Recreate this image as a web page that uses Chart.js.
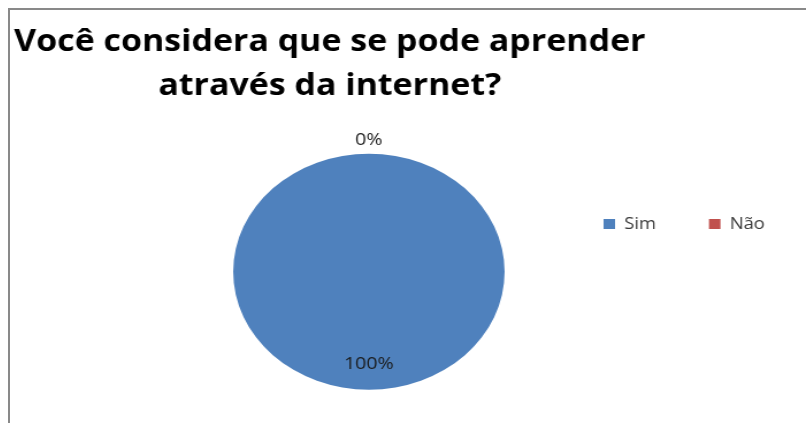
<!DOCTYPE html>
<html>
<head>
<meta charset="utf-8">
<script src="https://cdn.jsdelivr.net/npm/chart.js@4.4.1/dist/chart.umd.min.js"></script>
<style>
  html, body { margin: 0; padding: 0; background: #fff; overflow: hidden; }
  #frame {
    position: absolute; left: 8px; top: 8px;
    width: 798px; height: 415px; box-sizing: border-box;
    border-left: 2px solid #898989; border-top: 2px solid #898989;
  }
  #myChart { display: block; }
</style>
</head>
<body>
<!-- the source image is stretched sideways, so the canvas is too (inline style keeps chart.js from resetting it) -->
<div id="frame"><canvas id="myChart" width="692" height="413" style="width:796px;height:413px"></canvas></div>
<script>
// data
const categories = ['Sim', 'Não'];
const answers = [100, 0];
const sliceColors = ['#4F81BD', '#C0504D'];
const titleLines = ['Você considera que se pode aprender', 'através da internet?'];

// percent labels, like the excel data labels
const pctLabels = {
  id: 'pctLabels',
  afterDatasetsDraw(chart) {
    const ctx = chart.ctx;
    const meta = chart.getDatasetMeta(0);
    const total = answers.reduce((a, b) => a + b, 0);
    ctx.save();
    ctx.font = '17px "Open Sans"';
    ctx.fillStyle = '#1a1a1a';
    ctx.textAlign = 'center';
    ctx.textBaseline = 'middle';
    meta.data.forEach(function (arc, i) {
      const pct = Math.round(answers[i] / total * 100);
      const mid = (arc.startAngle + arc.endAngle) / 2;
      const r = pct < 5 ? arc.outerRadius + 14 : arc.outerRadius * 0.78;
      ctx.fillText(pct + '%', arc.x + Math.cos(mid) * r, arc.y + Math.sin(mid) * r);
    });
    ctx.restore();
  }
};

// move title / legend where excel put them
const placeBoxes = {
  id: 'placeBoxes',
  afterLayout(chart) {
    const t = chart.titleBlock;
    t.left = 278 - 340;
    t.right = 278 + 340;
    t.width = 680;
    const lg = chart.legend;
    lg.left = 470;
    lg.right = 800;
    lg.width = lg.right - lg.left;
    lg.top = 160;
    lg.bottom = 260;
    lg.height = 100;
  }
};

const data = {
  labels: categories,
  datasets: [{
    data: answers,
    backgroundColor: sliceColors,
    borderWidth: 0,
    radius: 118
  }]
};

const config = {
  type: 'pie',
  data: data,
  plugins: [pctLabels, placeBoxes],
  options: {
    responsive: false,
    animation: false,
    layout: { padding: { top: 0, bottom: 0, left: 0, right: 68 } },
    plugins: {
      title: {
        display: true,
        text: titleLines,
        color: '#000',
        font: { family: '"Open Sans"', size: 29.5, weight: 'bold', lineHeight: 1.5 },
        padding: { top: 10, bottom: 11 }
      },
      legend: {
        position: 'top',
        align: 'start',
        maxHeight: 1,
        labels: {
          boxWidth: 10,
          boxHeight: 10,
          padding: 46,
          color: '#3a3a3a',
          font: { family: '"Open Sans"', size: 16 }
        }
      },
      tooltip: { enabled: false }
    }
  }
};

var myChart = new Chart(document.getElementById('myChart'), config);
</script>
</body>
</html>
